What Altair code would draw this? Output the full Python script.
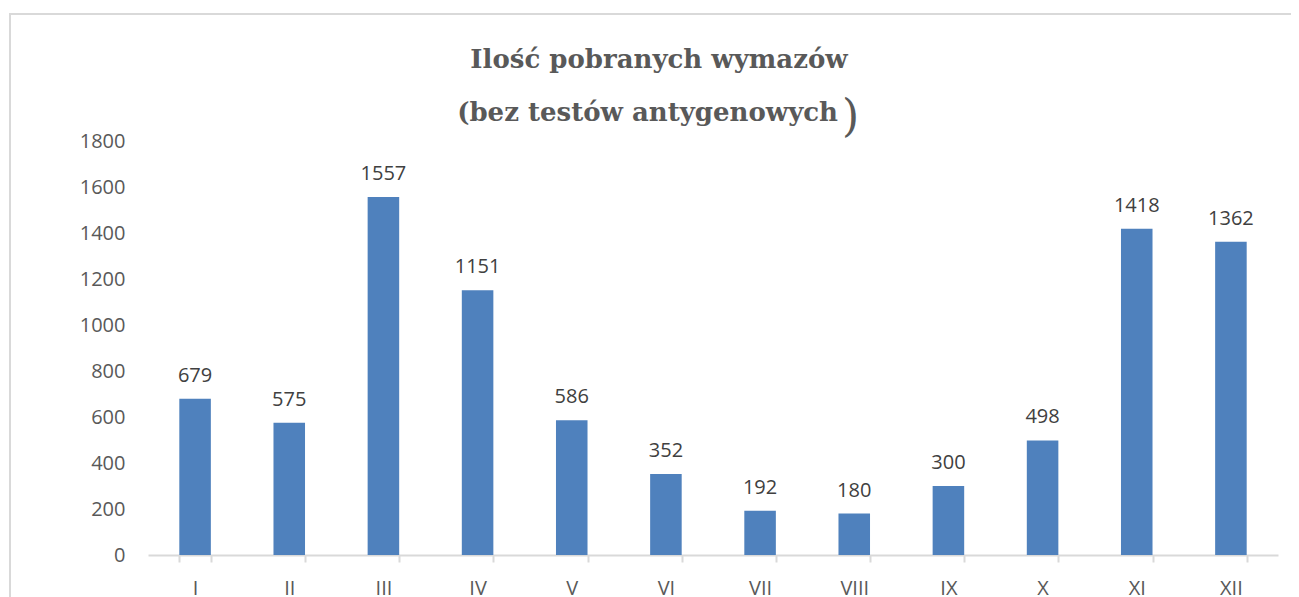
import altair as alt
import pandas as pd

months = ["I", "II", "III", "IV", "V", "VI", "VII", "VIII", "IX", "X", "XI", "XII"]
counts = [679, 575, 1557, 1151, 586, 352, 192, 180, 300, 498, 1418, 1362]
y_ticks = [0, 200, 400, 600, 800, 1000, 1200, 1400, 1600, 1800]
title_line1 = "Ilość pobranych wymazów"
title_line2 = "(bez testów antygenowych"
title_paren = ")"

df = pd.DataFrame({"month": months, "count": counts})

SANS = "Open Sans"
SERIF = "DejaVu Serif"
GRAY = "#595959"

x_enc = alt.X(
    "month:N",
    sort=months,
    title=None,
    scale=alt.Scale(paddingInner=0.665, paddingOuter=0.3325),
    axis=alt.Axis(
        labelAngle=0,
        labelFont=SANS,
        labelFontSize=20,
        labelColor=GRAY,
        labelPadding=16,
        domainColor="#d9d9d9",
        domainWidth=2,
        tickColor="#d9d9d9",
        tickWidth=2,
        tickSize=7,
        tickBand="extent",
        grid=False,
    ),
)
y_enc = alt.Y(
    "count:Q",
    title=None,
    scale=alt.Scale(domain=[0, 1800], nice=False),
    axis=alt.Axis(
        values=y_ticks,
        format="d",
        labelFont=SANS,
        labelFontSize=20,
        labelColor=GRAY,
        labelPadding=23,
        domain=False,
        ticks=False,
        grid=False,
    ),
)

base = alt.Chart(df)
bars = base.mark_bar(color="#4F81BD").encode(x=x_enc, y=y_enc)
labels = base.mark_text(
    font=SANS, fontSize=20, color="#404040", baseline="alphabetic", dy=-17
).encode(x=alt.X("month:N", sort=months), y="count:Q", text="count:Q")

one = alt.Data(values=[{"a": 1}])
frame = alt.Chart(one).mark_rect(
    filled=False, stroke="#d9d9d9", strokeWidth=2
).encode(
    x=alt.value(-138), x2=alt.value(1170), y=alt.value(-127), y2=alt.value(480)
)

t1 = alt.Chart(one).mark_text(
    text=title_line1, font=SERIF, fontSize=26, fontWeight="bold", color=GRAY,
    align="center", baseline="alphabetic",
).encode(x=alt.value(511), y=alt.value(-73))
t2 = alt.Chart(one).mark_text(
    text=title_line2, font=SERIF, fontSize=26, fontWeight="bold", color=GRAY,
    align="right", baseline="alphabetic",
).encode(x=alt.value(690), y=alt.value(-20))
t3 = alt.Chart(one).mark_text(
    text=title_paren, font=SERIF, fontSize=44, fontWeight="normal", color=GRAY,
    align="left", baseline="alphabetic",
).encode(x=alt.value(694), y=alt.value(-10))

chart = alt.layer(frame, t1, t2, t3, bars, labels).properties(
    width=1130,
    height=414,
    autosize=alt.AutoSizeParams(type="none"),
    padding={"left": 140, "top": 133, "right": 13, "bottom": 50},
).configure_view(stroke=None)

chart.save("out.html", embed_options={"renderer": "svg", "actions": False})
